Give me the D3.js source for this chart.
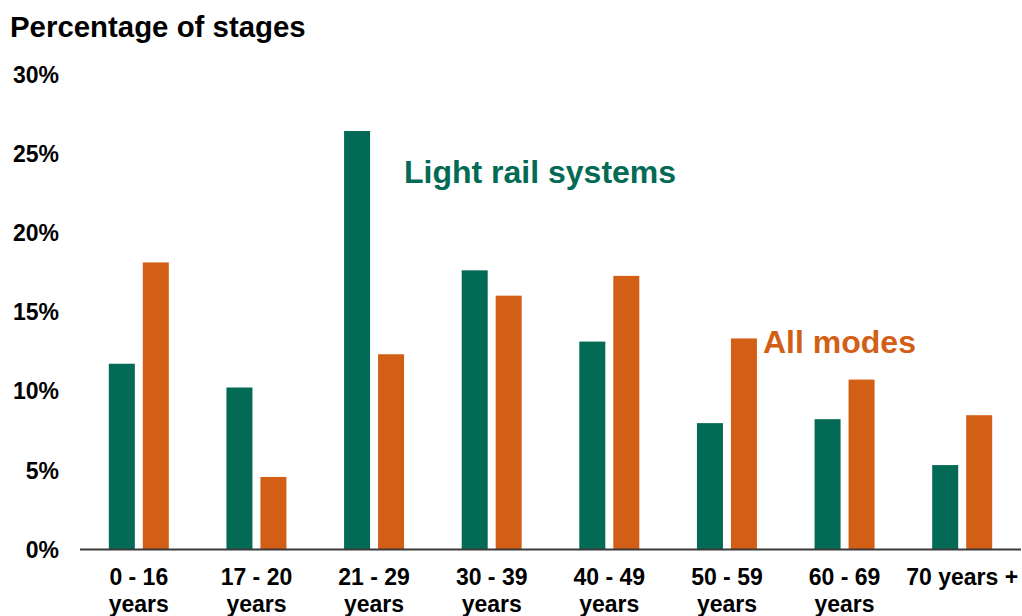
<!DOCTYPE html>
<html>
<head>
<meta charset="utf-8">
<script src="https://cdn.jsdelivr.net/npm/d3@7"></script>
<style>
  html, body { margin: 0; padding: 0; background: #fff; }
  svg text { font-family: "Liberation Sans", Arial, sans-serif; font-weight: bold; }
</style>
</head>
<body>
<svg id="chart" width="1022" height="616"></svg>
<script>
// Age bands and share of stages (%) for each series
const categories = [
  ["0 - 16", "years"],
  ["17 - 20", "years"],
  ["21 - 29", "years"],
  ["30 - 39", "years"],
  ["40 - 49", "years"],
  ["50 - 59", "years"],
  ["60 - 69", "years"],
  ["70 years +"]
];
const lightRail = [11.7, 10.2, 26.4, 17.6, 13.1, 7.95, 8.2, 5.3];
const allModes  = [18.1, 4.55, 12.3, 16.0, 17.25, 13.3, 10.7, 8.45];
const seriesNames = ["Light rail systems", "All modes"];
const seriesColors = ["#036a55", "#d35f17"];
const yTicks = [0, 5, 10, 15, 20, 25, 30];

const svg = d3.select("#chart");

const x0 = d3.scaleBand()
  .domain(d3.range(categories.length))
  .range([80, 1021])
  .paddingInner(0.49)
  .paddingOuter(0.245);

const x1 = d3.scaleBand()
  .domain(seriesNames)
  .range([0, x0.bandwidth()])
  .paddingInner(0.235)
  .paddingOuter(0);

const y = d3.scaleLinear().domain([0, 30]).range([549, 74]);

const seriesValues = [lightRail, allModes];

// Bars
seriesNames.forEach((name, s) => {
  svg.append("g")
    .selectAll("rect")
    .data(seriesValues[s])
    .join("rect")
      .attr("x", (d, i) => x0(i) + x1(name))
      .attr("y", d => y(d))
      .attr("width", x1.bandwidth())
      .attr("height", d => y(0) - y(d))
      .attr("fill", seriesColors[s]);
});

// Y axis labels (no line, no ticks)
const yAxis = d3.axisLeft(y)
  .tickValues(yTicks)
  .tickFormat(d => d + "%")
  .tickSize(0)
  .tickPadding(0);
const gy = svg.append("g")
  .attr("transform", "translate(59,0)")
  .call(yAxis);
gy.select(".domain").remove();
gy.selectAll("text")
  .attr("font-size", 23)
  .attr("font-family", "Liberation Sans, Arial, sans-serif")
  .attr("font-weight", "bold")
  .attr("fill", "#000")
  .attr("dy", "0.36em");

// X axis baseline
svg.append("line")
  .attr("x1", 80).attr("x2", 1021)
  .attr("y1", y(0) + 0.5).attr("y2", y(0) + 0.5)
  .attr("stroke", "#3a3a3a")
  .attr("stroke-width", 2);

// Category labels
const xl = svg.append("g")
  .selectAll("text")
  .data(categories)
  .join("text")
    .attr("x", (d, i) => x0(i) + x0.bandwidth() / 2)
    .attr("y", 585)
    .attr("text-anchor", "middle")
    .attr("font-size", 23)
    .attr("fill", "#000");
xl.selectAll("tspan")
  .data(d => d)
  .join("tspan")
    .attr("x", function () { return d3.select(this.parentNode).attr("x"); })
    .attr("dy", (d, i) => i === 0 ? 0 : 27)
    .text(d => d);

// Title
svg.append("text")
  .attr("x", 10)
  .attr("y", 37)
  .attr("font-size", 29.4)
  .attr("fill", "#000")
  .text("Percentage of stages");

// Series labels
svg.append("text")
  .attr("x", 404)
  .attr("y", 183)
  .attr("font-size", 32)
  .attr("fill", seriesColors[0])
  .text(seriesNames[0]);

svg.append("text")
  .attr("x", 763)
  .attr("y", 353)
  .attr("font-size", 32)
  .attr("fill", seriesColors[1])
  .text(seriesNames[1]);
</script>
</body>
</html>
